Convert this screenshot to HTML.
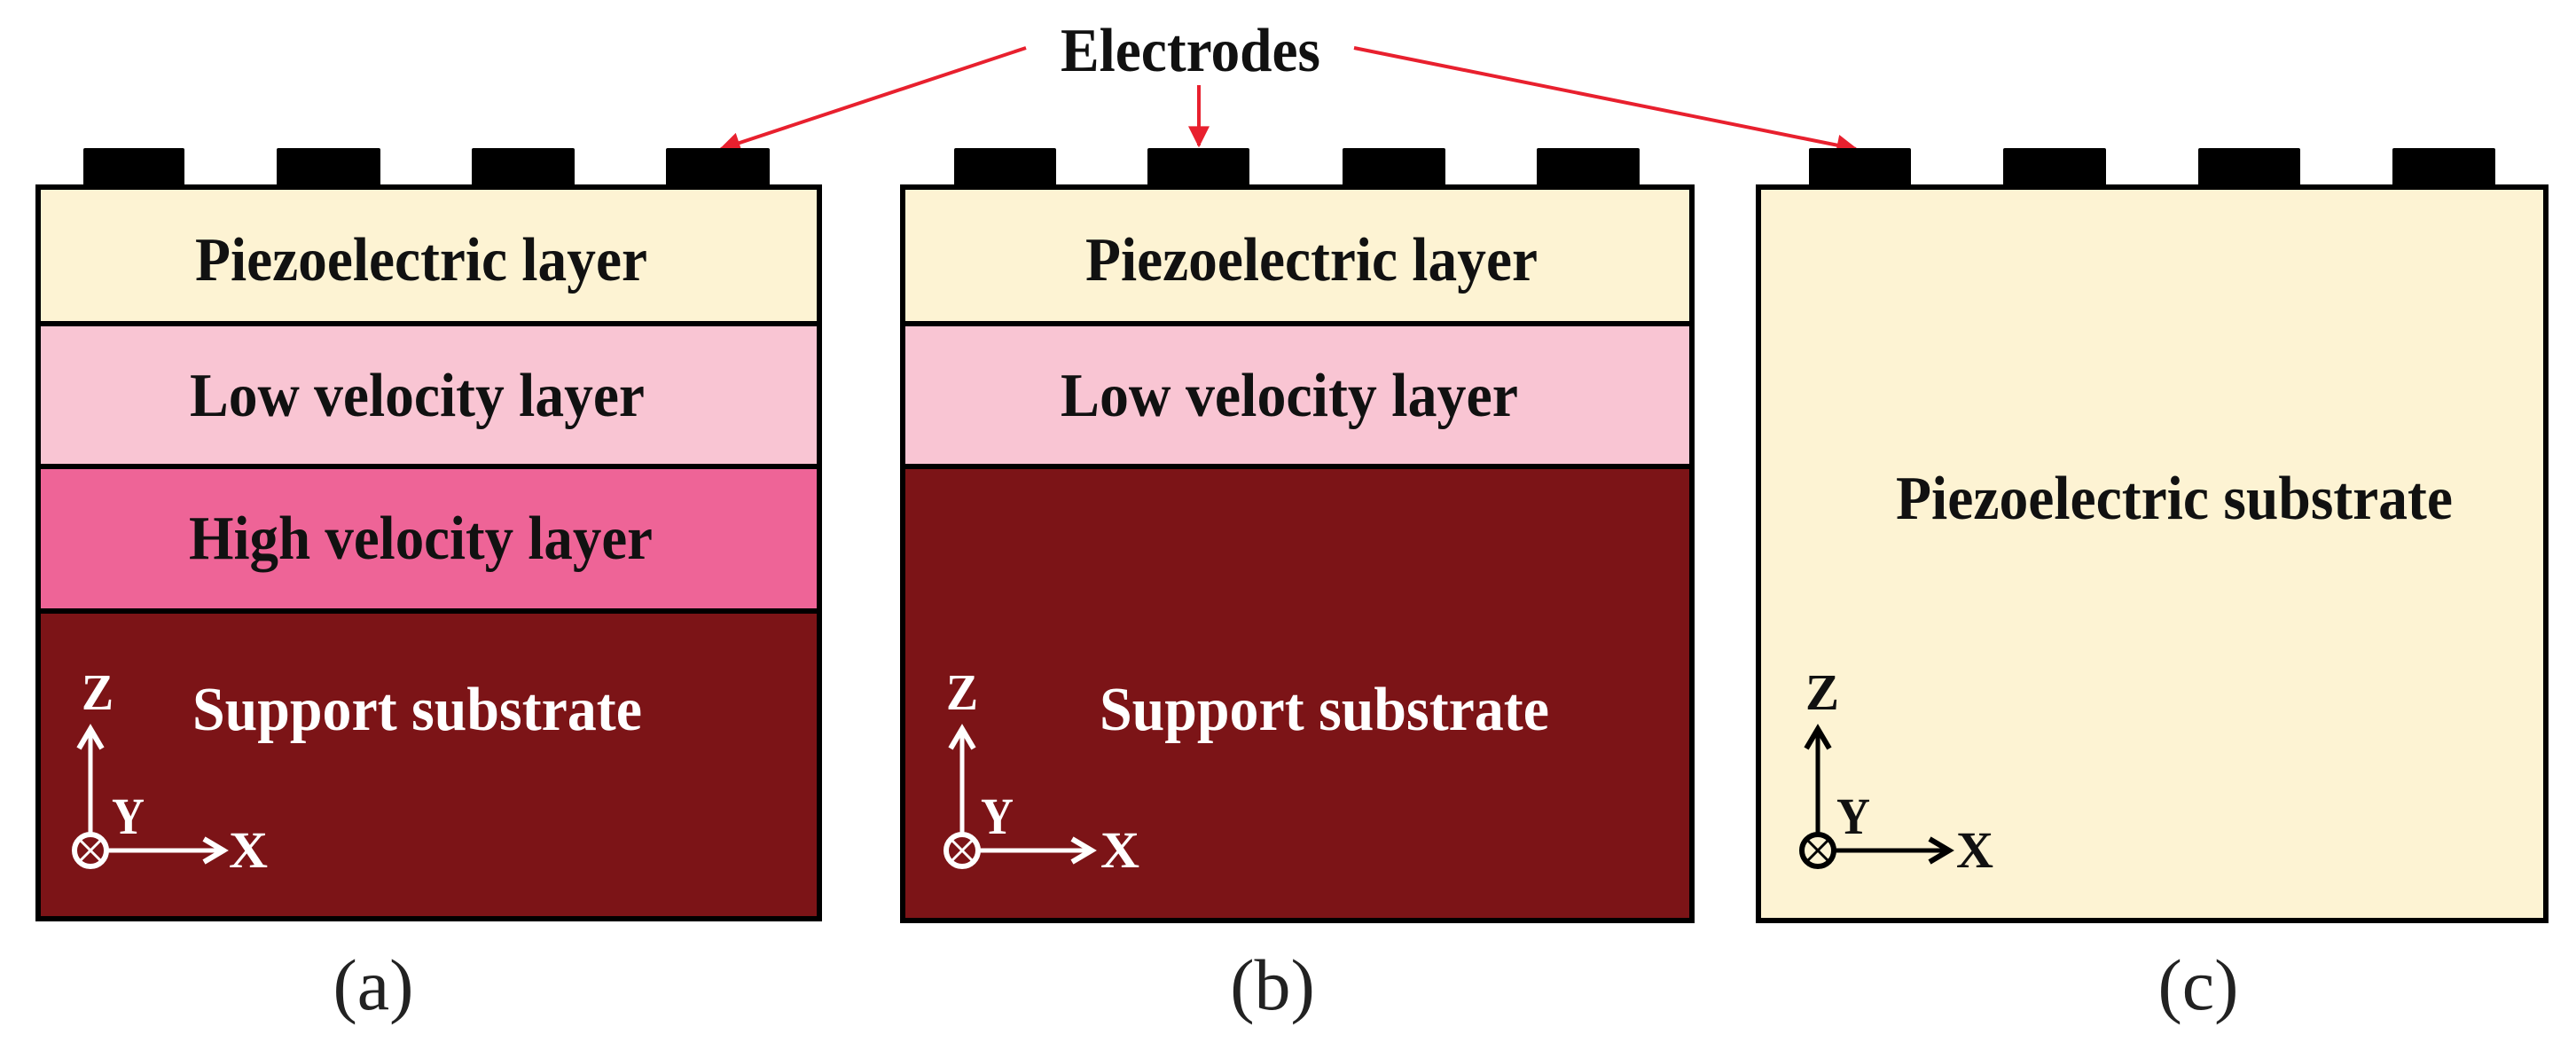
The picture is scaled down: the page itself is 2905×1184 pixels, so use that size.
<!DOCTYPE html>
<html><head><meta charset="utf-8"><style>
html,body{margin:0;padding:0;background:#fff;}
svg{display:block;}
text{font-family:"Liberation Serif",serif;}
.b{font-weight:bold;font-size:70px;}
.ax{font-weight:bold;font-size:58px;}
.lab{font-size:82px;}
</style></head><body>
<svg width="2905" height="1184" viewBox="0 0 2905 1184" xmlns="http://www.w3.org/2000/svg">
<defs>
<marker id="ar" viewBox="0 0 10 10" refX="9" refY="5" markerWidth="7" markerHeight="6" orient="auto" markerUnits="strokeWidth"><path d="M0,0 L10,5 L0,10 z" fill="#e8202e"/></marker>
</defs>

<!-- Electrodes label + arrows -->
<text class="b" x="1196" y="80" textLength="293" lengthAdjust="spacingAndGlyphs" fill="#111">Electrodes</text>
<line x1="1157" y1="54" x2="813" y2="168" stroke="#e8202e" stroke-width="4" marker-end="url(#ar)"/>
<line x1="1352" y1="96" x2="1352" y2="164" stroke="#e8202e" stroke-width="4" marker-end="url(#ar)"/>
<line x1="1527" y1="54" x2="2093" y2="168" stroke="#e8202e" stroke-width="4" marker-end="url(#ar)"/>

<!-- Panel a -->
<g fill="#000">
<rect x="94" y="167" width="114" height="46" rx="2"/>
<rect x="312" y="167" width="117" height="46" rx="2"/>
<rect x="532" y="167" width="116" height="46" rx="2"/>
<rect x="751" y="167" width="117" height="46" rx="2"/>
</g>
<rect x="43" y="211" width="881" height="154" fill="#fdf3d3" stroke="#000" stroke-width="6"/>
<rect x="43" y="365" width="881" height="161" fill="#f9c5d3" stroke="#000" stroke-width="6"/>
<rect x="43" y="526" width="881" height="163" fill="#ee6497" stroke="#000" stroke-width="6"/>
<rect x="43" y="689" width="881" height="347" fill="#7c1417" stroke="#000" stroke-width="6"/>
<text class="b" x="220" y="316" textLength="510" lengthAdjust="spacingAndGlyphs" fill="#111">Piezoelectric layer</text>
<text class="b" x="214" y="469" textLength="513" lengthAdjust="spacingAndGlyphs" fill="#111">Low velocity layer</text>
<text class="b" x="213" y="630" textLength="523" lengthAdjust="spacingAndGlyphs" fill="#111">High velocity layer</text>
<text class="b" x="217" y="823" textLength="507" lengthAdjust="spacingAndGlyphs" fill="#fff">Support substrate</text>
<text class="lab" x="421" y="1138" text-anchor="middle" fill="#222">(a)</text>

<!-- Panel b -->
<g fill="#000">
<rect x="1076" y="167" width="115" height="46" rx="2"/>
<rect x="1294" y="167" width="115" height="46" rx="2"/>
<rect x="1514" y="167" width="116" height="46" rx="2"/>
<rect x="1733" y="167" width="116" height="46" rx="2"/>
</g>
<rect x="1018" y="211" width="890" height="154" fill="#fdf3d3" stroke="#000" stroke-width="6"/>
<rect x="1018" y="365" width="890" height="161" fill="#f9c5d3" stroke="#000" stroke-width="6"/>
<rect x="1018" y="526" width="890" height="512" fill="#7c1417" stroke="#000" stroke-width="6"/>
<text class="b" x="1224" y="316" textLength="510" lengthAdjust="spacingAndGlyphs" fill="#111">Piezoelectric layer</text>
<text class="b" x="1196" y="469" textLength="516" lengthAdjust="spacingAndGlyphs" fill="#111">Low velocity layer</text>
<text class="b" x="1240" y="823" textLength="507" lengthAdjust="spacingAndGlyphs" fill="#fff">Support substrate</text>
<text class="lab" x="1435" y="1138" text-anchor="middle" fill="#222">(b)</text>

<!-- Panel c -->
<g fill="#000">
<rect x="2040" y="167" width="115" height="46" rx="2"/>
<rect x="2259" y="167" width="116" height="46" rx="2"/>
<rect x="2479" y="167" width="115" height="46" rx="2"/>
<rect x="2698" y="167" width="116" height="46" rx="2"/>
</g>
<rect x="1983" y="211" width="888" height="827" fill="#fdf3d3" stroke="#000" stroke-width="6"/>
<text class="b" x="2138" y="585" textLength="628" lengthAdjust="spacingAndGlyphs" fill="#111">Piezoelectric substrate</text>
<text class="lab" x="2479" y="1138" text-anchor="middle" fill="#222">(c)</text>

<!-- Axes a -->
<g stroke="#fff" fill="none" stroke-width="5">
<line x1="102" y1="940" x2="102" y2="824"/>
<polyline points="89,844 102,822 115,844" stroke-width="6"/>
<line x1="121" y1="959" x2="248" y2="959"/>
<polyline points="230,946 252,959 230,972" stroke-width="6"/>
<circle cx="102" cy="959" r="18" stroke-width="6"/>
<line x1="91" y1="948" x2="113" y2="970" stroke-width="3"/>
<line x1="113" y1="948" x2="91" y2="970" stroke-width="3"/>
</g>
<g class="ax" fill="#fff">
<text x="92" y="800" textLength="36" lengthAdjust="spacingAndGlyphs">Z</text>
<text x="126" y="940" textLength="37" lengthAdjust="spacingAndGlyphs">Y</text>
<text x="258" y="978" textLength="44" lengthAdjust="spacingAndGlyphs">X</text>
</g>

<!-- Axes b -->
<g stroke="#fff" fill="none" stroke-width="5">
<line x1="1085" y1="940" x2="1085" y2="824"/>
<polyline points="1072,844 1085,822 1098,844" stroke-width="6"/>
<line x1="1104" y1="959" x2="1227" y2="959"/>
<polyline points="1209,946 1231,959 1209,972" stroke-width="6"/>
<circle cx="1085" cy="959" r="18" stroke-width="6"/>
<line x1="1074" y1="948" x2="1096" y2="970" stroke-width="3"/>
<line x1="1096" y1="948" x2="1074" y2="970" stroke-width="3"/>
</g>
<g class="ax" fill="#fff">
<text x="1067" y="800" textLength="36" lengthAdjust="spacingAndGlyphs">Z</text>
<text x="1106" y="940" textLength="37" lengthAdjust="spacingAndGlyphs">Y</text>
<text x="1241" y="978" textLength="44" lengthAdjust="spacingAndGlyphs">X</text>
</g>

<!-- Axes c -->
<g stroke="#000" fill="none" stroke-width="5">
<line x1="2050" y1="940" x2="2050" y2="824"/>
<polyline points="2037,844 2050,822 2063,844" stroke-width="6"/>
<line x1="2069" y1="959" x2="2194" y2="959"/>
<polyline points="2176,946 2198,959 2176,972" stroke-width="6"/>
<circle cx="2050" cy="959" r="18" stroke-width="6"/>
<line x1="2039" y1="948" x2="2061" y2="970" stroke-width="3"/>
<line x1="2061" y1="948" x2="2039" y2="970" stroke-width="3"/>
</g>
<g class="ax" fill="#111">
<text x="2036" y="800" textLength="38" lengthAdjust="spacingAndGlyphs">Z</text>
<text x="2071" y="940" textLength="38" lengthAdjust="spacingAndGlyphs">Y</text>
<text x="2206" y="978" textLength="42" lengthAdjust="spacingAndGlyphs">X</text>
</g>
</svg>
</body></html>
